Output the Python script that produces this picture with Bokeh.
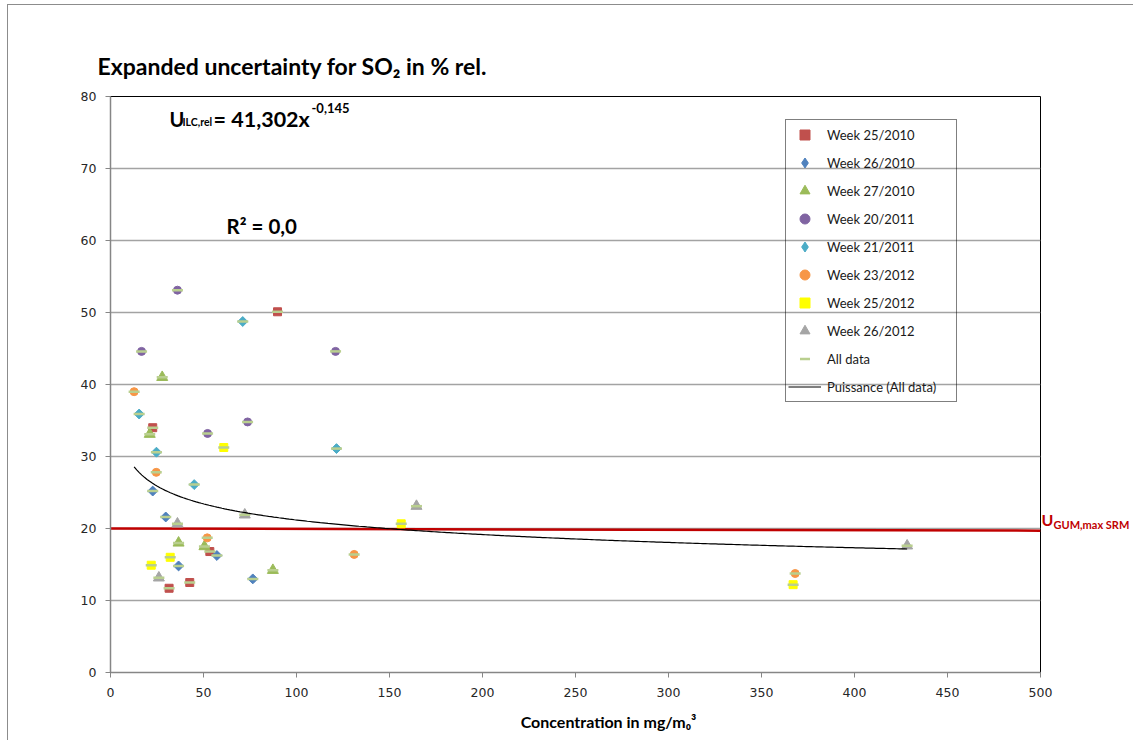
import numpy as np
from bokeh.plotting import figure
from bokeh.models import (Range1d, Label, Legend, LegendItem, FixedTicker, Title,
                          LinearAxis, CustomJSTickFormatter)
from bokeh.embed import file_html
from bokeh.resources import INLINE

# ---------------- data ----------------
w25_2010_x = [22.7, 31.5, 42.6, 53.4, 89.8]
w25_2010_y = [34.0, 11.7, 12.5, 16.8, 50.1]
w26_2010_x = [22.7, 29.7, 36.6, 57.2, 76.5]
w26_2010_y = [25.2, 21.6, 14.8, 16.25, 13.0]
w27_2010_x = [21.1, 27.8, 36.6, 50.5, 87.3]
w27_2010_y = [33.1, 41.0, 18.0, 17.5, 14.2]
w20_2011_x = [16.7, 36.0, 52.2, 73.7, 121.0]
w20_2011_y = [44.6, 53.1, 33.2, 34.8, 44.6]
w21_2011_x = [15.4, 24.7, 45.0, 71.1, 121.5]
w21_2011_y = [35.9, 30.6, 26.1, 48.75, 31.1]
w23_2012_x = [12.7, 24.6, 52.0, 131.0, 368.1]
w23_2012_y = [39.0, 27.8, 18.7, 16.4, 13.75]
w25_2012_x = [21.9, 32.1, 60.9, 156.3, 367.0]
w25_2012_y = [14.9, 16.0, 31.25, 20.65, 12.2]
w26_2012_x = [26.0, 36.0, 72.2, 164.5, 428.3]
w26_2012_y = [13.15, 20.65, 21.9, 23.1, 17.6]

# power trendline as printed on the chart: U = a * x^b
fit_a = 41.302
fit_b = -0.145

# U_GUM,max SRM reference line
ugum_x = [0, 500]
ugum_y = [20.0, 19.7]

x_ticks = [0, 50, 100, 150, 200, 250, 300, 350, 400, 450, 500]
y_ticks = [0, 10, 20, 30, 40, 50, 60, 70, 80]

# ---------------- figure ----------------
W, H = 1126, 736
ML, MT = 102, 91
p = figure(width=W, height=H, output_backend="svg", toolbar_location=None,
           x_range=Range1d(0, 500), y_range=Range1d(0, 80),
           min_border_left=ML, min_border_right=W - ML - 930,
           min_border_top=MT, min_border_bottom=H - MT - 576,
           styles={"margin-left": "7px", "margin-top": "4px",
                   "border-left": "1px solid #8c8c8c",
                   "border-top": "1px solid #8c8c8c"})
p.background_fill_color = "white"
p.border_fill_color = "white"
p.outline_line_color = "black"
p.outline_line_width = 1

p.xgrid.visible = False
p.ygrid.grid_line_color = "#a3a3a3"
p.ygrid.grid_line_width = 1.5
p.ygrid.ticker = FixedTicker(ticks=y_ticks)

for ax in (p.xaxis[0], p.yaxis[0]):
    ax.axis_line_color = "#868686"
    ax.axis_line_width = 1.5
    ax.major_tick_line_color = "#868686"
    ax.major_tick_line_width = 1
    ax.major_tick_out = 5
    ax.major_tick_in = 0
    ax.minor_tick_line_color = None
    ax.major_label_text_font = "DejaVu Sans"
    ax.major_label_text_font_size = "12.5px"
    ax.major_label_text_color = "#262626"
p.xaxis.ticker = FixedTicker(ticks=x_ticks)
p.yaxis.ticker = FixedTicker(ticks=y_ticks)
p.xaxis.major_label_standoff = 10
p.yaxis.major_label_standoff = 9

# x axis title (shifted right of centre as in the original)
p.xaxis.axis_label = "\u00a0" * 17 + "Concentration in mg/m\u2080\u00b3"
p.xaxis.axis_label_text_font = "Lato"
p.xaxis.axis_label_text_font_style = "bold"
p.xaxis.axis_label_text_font_size = "16px"
p.xaxis.axis_label_text_color = "black"
p.xaxis.axis_label_standoff = 12

# chart title
t = Title(text="Expanded uncertainty for SO\u2082 in % rel.", align="left", offset=-13,
          text_font="Lato", text_font_style="bold", text_font_size="23px",
          text_color="black", standoff=34)
p.add_layout(t, "above")

# reference line
p.line(ugum_x, ugum_y, line_color="#C00000", line_width=2.5)

# series
series = [
    ("Week 25/2010", w25_2010_x, w25_2010_y, "square", "#C0504D", 8),
    ("Week 26/2010", w26_2010_x, w26_2010_y, "diamond", "#4F81BD", 7),
    ("Week 27/2010", w27_2010_x, w27_2010_y, "triangle", "#9BBB59", 11),
    ("Week 20/2011", w20_2011_x, w20_2011_y, "circle", "#8064A2", 8),
    ("Week 21/2011", w21_2011_x, w21_2011_y, "diamond", "#4BACC6", 7),
    ("Week 23/2012", w23_2012_x, w23_2012_y, "circle", "#F79646", 8),
    ("Week 25/2012", w25_2012_x, w25_2012_y, "square", "#FFFF00", 8),
    ("Week 26/2012", w26_2012_x, w26_2012_y, "triangle", "#A5A5A5", 11),
]
items = []
all_x, all_y = [], []
for name, xs, ys, marker, color, size in series:
    if marker == "diamond":
        # rhombus in the plot; a hidden diamond renderer supplies the legend swatch
        p.scatter(xs, ys, marker="square", size=size, angle=np.pi / 4,
                  fill_color=color, line_color=color, line_width=1)
        r_leg = p.scatter(xs, ys, marker="diamond", size=12, visible=False,
                          fill_color=color, line_color=color, line_width=1)
        items.append(LegendItem(label=name, renderers=[r_leg]))
    else:
        r = p.scatter(xs, ys, marker=marker, size=size,
                      fill_color=color, line_color=color, line_width=1)
        items.append(LegendItem(label=name, renderers=[r]))
    all_x += xs
    all_y += ys

r_all = p.scatter(all_x, all_y, marker="dash", size=11, line_color="#B9CF8F", line_width=2.5)
items.append(LegendItem(label="All data", renderers=[r_all]))

fx = np.linspace(min(all_x), max(all_x), 300)
fy = fit_a * fx ** fit_b
r_fit = p.line(fx, fy, line_color="black", line_width=1.2)
items.append(LegendItem(label="Puissance (All data)", renderers=[r_fit]))

legend = Legend(items=items, location=(675, 270))
legend.label_text_font = "Lato"
legend.label_text_font_size = "13px"
legend.label_text_color = "#1a1a1a"
legend.label_height = 20
legend.glyph_height = 25
legend.glyph_width = 33
legend.spacing = 3
legend.padding = 2
legend.margin = 0
legend.label_standoff = 6
legend.label_width = 127
legend.border_line_color = "black"
legend.border_line_width = 1
legend.background_fill_alpha = 0
legend.inactive_fill_alpha = 0
legend.click_policy = "none"
p.add_layout(legend)

# red U_GUM,max SRM label at the right of the frame, as two tick labels
ugum_label_y = [21.3]
ugum_sub_y = [20.55]
ax_u = LinearAxis(ticker=FixedTicker(ticks=ugum_label_y),
                  formatter=CustomJSTickFormatter(code="return 'U'"))
ax_s = LinearAxis(ticker=FixedTicker(ticks=ugum_sub_y),
                  formatter=CustomJSTickFormatter(code="return 'GUM,max SRM'"))
for ax, fs, so in ((ax_u, "16px", 1), (ax_s, "11px", -3)):
    ax.axis_line_color = None
    ax.major_tick_line_color = None
    ax.minor_tick_line_color = None
    ax.major_tick_out = 0
    ax.major_tick_in = 0
    ax.major_label_standoff = so
    ax.major_label_text_font = "Lato"
    ax.major_label_text_font_style = "bold"
    ax.major_label_text_font_size = fs
    ax.major_label_text_color = "#C00000"
p.add_layout(ax_u, "right")
p.add_layout(ax_s, "right")

# ---------------- texts inside the frame ----------------
FL, FB = 110, 672  # page coords of frame left / bottom


def lab(px, py, text, size, color="black"):
    p.add_layout(Label(x=px - FL, y=FB - py, x_units="screen", y_units="screen",
                       text=text, text_font="Lato", text_font_size=size,
                       text_font_style="bold", text_color=color,
                       text_baseline="alphabetic", text_align="left"))


lab(169, 118, "U", "20px")
lab(182, 121, "ILC,rel", "10.5px")
lab(213, 118, "= 41,302x", "21.5px")
lab(311, 107, "-0,145", "13px")

lab(226, 225, "R² = 0,0", "20.5px")

open("out.html", "w").write(file_html(p, INLINE))
